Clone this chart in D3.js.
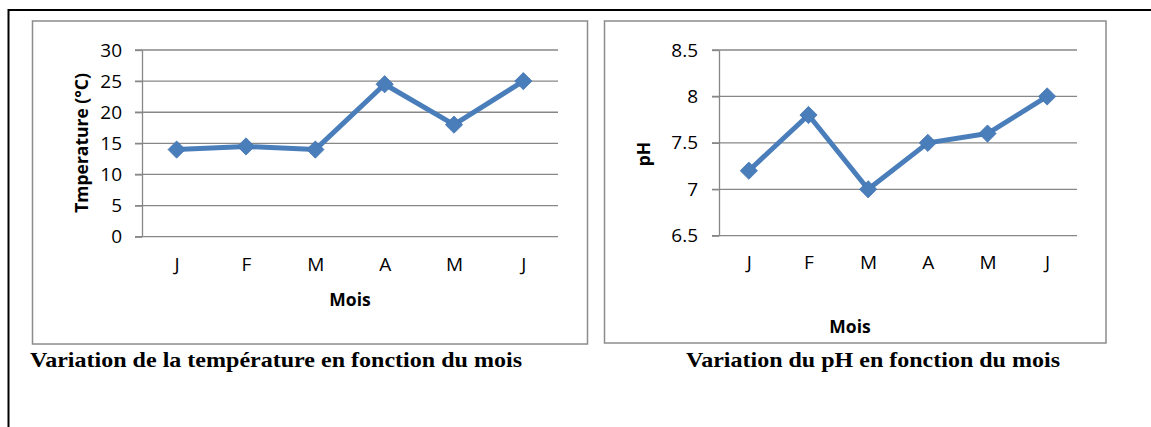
<!DOCTYPE html>
<html>
<head>
<meta charset="utf-8">
<script src="https://cdn.jsdelivr.net/npm/d3@7"></script>
<style>
  html, body { margin: 0; padding: 0; background: #fff; }
  svg { display: block; }
</style>
</head>
<body>
<svg id="fig" width="1151" height="427"></svg>
<script>
// Monthly readings, January to June
const months = ["J", "F", "M", "A", "M", "J"];
const temperature = [14, 14.5, 14, 24.5, 18, 25];
const ph = [7.2, 7.8, 7.0, 7.5, 7.6, 8.0];
const tempTicks = [0, 5, 10, 15, 20, 25, 30];
const phTicks = [6.5, 7, 7.5, 8, 8.5];

const svg = d3.select("#fig");
const BLUE = "#4a7ebb";
const GRID = "#878787";
const FRAME = "#8c8c8c";
const SANS = "'Open Sans', 'Noto Sans', sans-serif";
const SERIF = "'Liberation Serif', 'Times New Roman', serif";

// outer black frame (right and bottom edges run off the page)
svg.append("rect")
  .attr("x", 8.5).attr("y", 10).attr("width", 1300).attr("height", 600)
  .attr("fill", "none").attr("stroke", "#000").attr("stroke-width", 2);

function lineChart(cfg) {
  const g = svg.append("g");

  g.append("rect")
    .attr("x", cfg.frame[0]).attr("y", cfg.frame[1])
    .attr("width", cfg.frame[2]).attr("height", cfg.frame[3])
    .attr("fill", "#fff").attr("stroke", FRAME).attr("stroke-width", 1.5);

  const x = d3.scalePoint()
    .domain(d3.range(cfg.labels.length))
    .range([cfg.x0, cfg.x1])
    .padding(0.5);
  const y = d3.scaleLinear().domain(cfg.domain).range([cfg.y1, cfg.y0]);

  // horizontal gridlines, starting at the tick mark
  g.append("g").selectAll("line").data(cfg.ticks).join("line")
    .attr("x1", cfg.x0 - 7).attr("x2", cfg.x1)
    .attr("y1", d => y(d)).attr("y2", d => y(d))
    .attr("stroke", GRID).attr("stroke-width", 1.3);

  // value axis
  const yAxis = g.append("g")
    .attr("transform", `translate(${cfg.x0},0)`)
    .call(d3.axisLeft(y).tickValues(cfg.ticks).tickSize(7).tickSizeOuter(0).tickPadding(cfg.yPad)
      .tickFormat(d3.format("")));
  yAxis.selectAll("path, line").attr("stroke", GRID).attr("stroke-width", 1.3);
  yAxis.selectAll("text").attr("fill", "#000")
    .style("font-family", SANS).style("font-size", "19px");

  // category axis (labels only)
  const xAxis = g.append("g")
    .attr("transform", `translate(0,${cfg.y1})`)
    .call(d3.axisBottom(x).tickSize(0).tickPadding(cfg.xPad).tickFormat(i => cfg.labels[i]));
  xAxis.select(".domain").remove();
  xAxis.selectAll("text").attr("fill", "#000")
    .style("font-family", SANS).style("font-size", "19px");

  // series line and diamond markers
  g.append("path")
    .datum(cfg.values)
    .attr("fill", "none").attr("stroke", BLUE).attr("stroke-width", 5)
    .attr("stroke-linejoin", "round")
    .attr("d", d3.line().x((d, i) => x(i)).y(d => y(d)));

  g.append("g").selectAll("path").data(cfg.values).join("path")
    .attr("transform", (d, i) => `translate(${x(i)},${y(d)})`)
    .attr("d", d3.symbol(d3.symbolDiamond2, 190)())
    .attr("fill", BLUE).attr("stroke", "#4273b0").attr("stroke-width", 0.8);

  // axis titles
  g.append("text")
    .attr("transform", `translate(${cfg.yTitle[0]},${cfg.yTitle[1]}) rotate(-90)`)
    .attr("text-anchor", "middle").attr("dominant-baseline", "central")
    .style("font-family", SANS).style("font-size", "17.5px").style("font-weight", "bold")
    .text(cfg.yLabel);

  g.append("text")
    .attr("x", cfg.xTitle[0]).attr("y", cfg.xTitle[1])
    .attr("text-anchor", "middle")
    .style("font-family", SANS).style("font-size", "17.5px").style("font-weight", "bold")
    .text("Mois");

  // caption under the chart
  svg.append("text")
    .attr("x", cfg.caption[0]).attr("y", cfg.caption[1])
    .attr("textLength", cfg.caption[2]).attr("lengthAdjust", "spacingAndGlyphs")
    .style("font-family", SERIF).style("font-size", "22px").style("font-weight", "bold")
    .text(cfg.captionText);
}

lineChart({
  frame: [32.5, 21, 555, 323],
  x0: 142, x1: 558, y0: 50, y1: 236.7,
  labels: months, values: temperature, domain: [0, 30], ticks: tempTicks,
  xPad: 20.8, yPad: 13,
  yLabel: "Tmperature (°C)", yTitle: [81, 143],
  xTitle: [350, 306],
  caption: [30, 366.5, 492],
  captionText: "Variation de la température en fonction du mois"
});

lineChart({
  frame: [604.5, 21, 501.5, 322],
  x0: 719, x1: 1077, y0: 50, y1: 235.7,
  labels: months, values: ph, domain: [6.5, 8.5], ticks: phTicks,
  xPad: 20.3, yPad: 14,
  yLabel: "pH", yTitle: [643, 154],
  xTitle: [850, 333],
  caption: [686, 366.5, 374],
  captionText: "Variation du pH en fonction du mois"
});
</script>
</body>
</html>
